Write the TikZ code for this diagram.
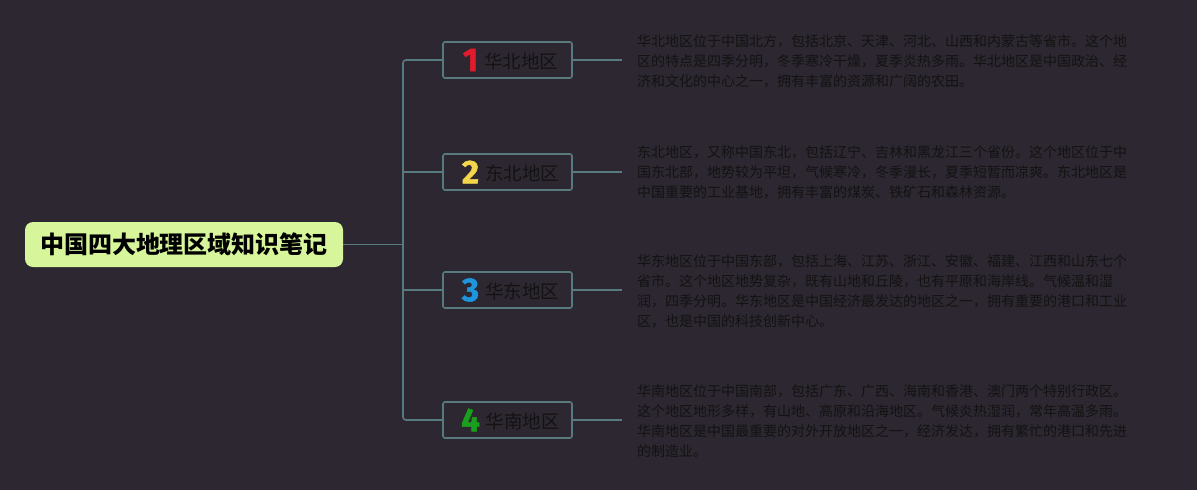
\documentclass[tikz,border=0pt]{standalone}
\usepackage{fontspec}
\setmainfont{Noto Sans CJK SC}
\newfontfamily\numfont{Fira Sans}[BoldFeatures={FakeBold=1.5}]
\usepackage{xcolor}
\usepackage{tikz}
\definecolor{boardBg}{HTML}{2C2730}
\definecolor{branchLine}{HTML}{567A7E}
\definecolor{rootFill}{HTML}{D7F59B}
\definecolor{noteText}{HTML}{131313}
\definecolor{numRed}{HTML}{E01B2C}
\definecolor{numYellow}{HTML}{F3D64C}
\definecolor{numBlue}{HTML}{1E95DD}
\definecolor{numGreen}{HTML}{1A9E1E}
\tikzset{
	link/.style={draw=branchLine, line width=1.6pt},
	rootbox/.style={fill=rootFill, rounded corners=8pt, minimum width=318pt, minimum height=45pt,
		text=black, font=\fontsize{24}{24}\selectfont\bfseries},
	areabox/.style={draw=branchLine, fill=boardBg, line width=1.6pt, rounded corners=2pt,
		minimum width=129pt, minimum height=36pt, text=noteText, font=\fontsize{18.5}{18.5}\selectfont},
	notetext/.style={anchor=west, align=left, inner xsep=15pt, inner ysep=0pt, text=noteText,
		font=\fontsize{14}{20}\selectfont}
}
\newcommand{\areanum}[3]{\hspace*{6pt}{\numfont\bfseries\fontsize{33}{33}\selectfont\color{#1}#2}\hspace{6pt}\raisebox{3pt}{#3}}

\begin{document}
\begin{tikzpicture}[x=1pt,y=-1pt]
	\fill[boardBg] (0,0) rectangle (1197,490);

	\node[rootbox] (root) at (184,244.5) {中国四大地理区域知识笔记};
	\coordinate (trunk) at (403,244.5);

	\node[areabox] (hb) at (507.5,60) {\areanum{numRed}{1}{华北地区}};
	\node[areabox] (db) at (507.5,172) {\areanum{numYellow}{2}{东北地区}};
	\node[areabox] (hd) at (507.5,290) {\areanum{numBlue}{3}{华东地区}};
	\node[areabox] (hn) at (507.5,420) {\areanum{numGreen}{4}{华南地区}};

	\node[notetext] (hbtxt) at (622,61.5) {华北地区位于中国北方，包括北京、天津、河北、山西和内蒙古等省市。这个地\\区的特点是四季分明，冬季寒冷干燥，夏季炎热多雨。华北地区是中国政治、经\\济和文化的中心之一，拥有丰富的资源和广阔的农田。};
	\node[notetext] (dbtxt) at (622,172) {东北地区，又称中国东北，包括辽宁、吉林和黑龙江三个省份。这个地区位于中\\国东北部，地势较为平坦，气候寒冷，冬季漫长，夏季短暂而凉爽。东北地区是\\中国重要的工业基地，拥有丰富的煤炭、铁矿石和森林资源。};
	\node[notetext] (hdtxt) at (622,291.5) {华东地区位于中国东部，包括上海、江苏、浙江、安徽、福建、江西和山东七个\\省市。这个地区地势复杂，既有山地和丘陵，也有平原和海岸线。气候温和湿\\润，四季分明。华东地区是中国经济最发达的地区之一，拥有重要的港口和工业\\区，也是中国的科技创新中心。};
	\node[notetext] (hntxt) at (622,421.5) {华南地区位于中国南部，包括广东、广西、海南和香港、澳门两个特别行政区。\\这个地区地形多样，有山地、高原和沿海地区。气候炎热湿润，常年高温多雨。\\华南地区是中国最重要的对外开放地区之一，经济发达，拥有繁忙的港口和先进\\的制造业。};

	\draw[link] (root) -- (trunk);
	\draw[link, rounded corners=3pt] (hb) -| (trunk) |- (hn);
	\draw[link] (db) -- (db -| trunk);
	\draw[link] (hd) -- (hd -| trunk);

	\draw[link] (hb.east) -- (hb.east -| hbtxt.west);
	\draw[link] (db.east) -- (db.east -| dbtxt.west);
	\draw[link] (hd.east) -- (hd.east -| hdtxt.west);
	\draw[link] (hn.east) -- (hn.east -| hntxt.west);
\end{tikzpicture}
\end{document}
